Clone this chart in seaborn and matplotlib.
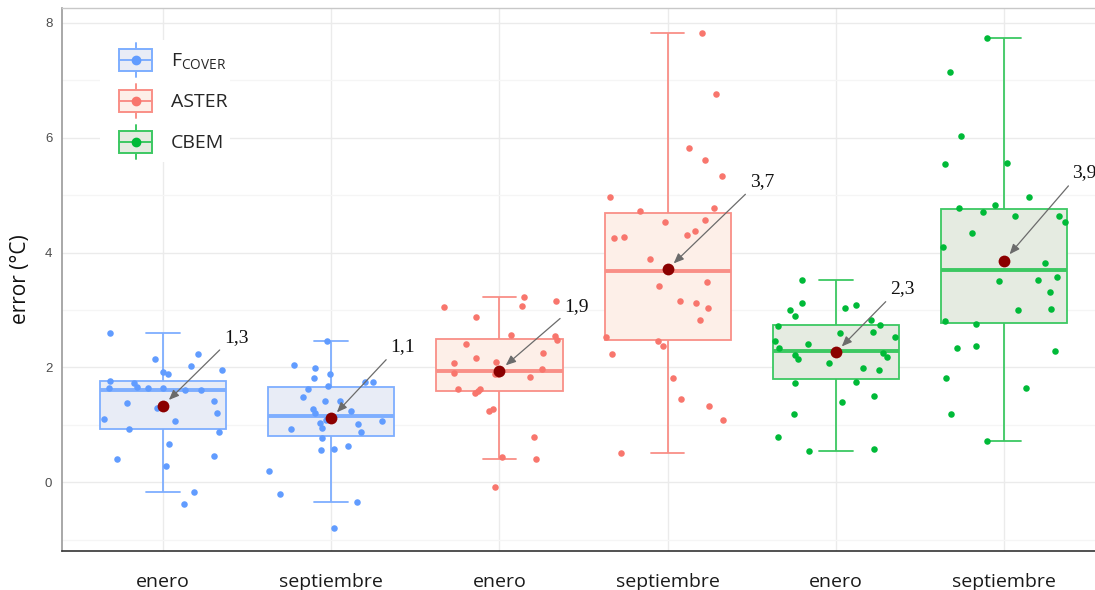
import numpy as np
import pandas as pd
import matplotlib
matplotlib.use("Agg")
import matplotlib.pyplot as plt
from matplotlib.legend_handler import HandlerBase
from matplotlib.patches import Rectangle, Patch
from matplotlib.lines import Line2D
import seaborn as sns

# Error de la temperatura estimada (°C) por método y mes
fcover_enero = [2.60, 2.23, 2.15, 2.03, 1.95, 1.89, 1.91, 1.77, 1.72, 1.64, 1.61, 1.60,
                1.64, 1.64, 1.65, 1.42, 1.37, 1.30, 1.21, 1.10, 1.07, 0.87, 0.93, 0.66,
                0.46, 0.41, 0.28, -0.18, -0.38]
fcover_septiembre = [2.46, 2.04, 1.89, 1.99, 1.67, 1.82, 1.74, 1.74, 1.63, 1.42, 1.49,
                     1.41, 1.27, 1.24, 1.20, 1.09, 1.02, 1.03, 1.07, 0.92, 0.88, 0.94,
                     0.77, 0.63, 0.57, 0.56, 0.20, -0.21, -0.34, -0.80]
aster_enero = [3.23, 3.16, 3.07, 3.05, 2.88, 2.56, 2.41, 2.47, 2.55, 2.25, 2.09, 1.97,
               2.08, 2.16, 1.88, 1.84, 1.89, 1.90, 1.62, 1.59, 1.56, 1.62, 1.24, 1.28,
               0.79, 0.41, 0.43, -0.08]
aster_septiembre = [7.82, 6.77, 5.82, 5.62, 5.33, 4.97, 4.77, 4.72, 4.54, 4.56, 4.38,
                    4.27, 4.30, 4.25, 3.88, 3.48, 3.42, 3.15, 3.12, 3.04, 2.82, 2.53,
                    2.46, 2.38, 2.24, 1.82, 1.45, 1.32, 1.08, 0.50]
cbem_enero = [3.52, 3.09, 3.00, 3.12, 3.03, 2.90, 2.83, 2.74, 2.72, 2.59, 2.62, 2.52,
              2.40, 2.22, 2.25, 2.18, 2.14, 2.08, 1.99, 1.95, 1.72, 1.74, 1.50, 1.40,
              1.19, 0.78, 0.55, 0.58, 2.33, 2.45]
cbem_septiembre = [7.73, 7.14, 6.03, 5.54, 5.56, 4.97, 4.83, 4.77, 4.71, 4.63, 4.64,
                   4.54, 4.34, 4.09, 3.81, 3.58, 3.50, 3.53, 3.32, 3.00, 3.02, 2.81,
                   2.75, 2.38, 2.34, 2.28, 1.82, 1.64, 1.18, 0.71]

metodos = ["FCOVER", "ASTER", "CBEM"]
etiquetas_metodo = [r"$\mathregular{F_{COVER}}$", "ASTER", "CBEM"]
meses = ["enero", "septiembre"]
# media de cada grupo, en el mismo orden que los grupos del eje x
medias = [1.33, 1.11, 1.94, 3.71, 2.26, 3.86]

series = {
    ("FCOVER", "enero"): fcover_enero,
    ("FCOVER", "septiembre"): fcover_septiembre,
    ("ASTER", "enero"): aster_enero,
    ("ASTER", "septiembre"): aster_septiembre,
    ("CBEM", "enero"): cbem_enero,
    ("CBEM", "septiembre"): cbem_septiembre,
}

filas = []
orden = []
for m in metodos:
    for mes in meses:
        g = f"{m}-{mes}"
        orden.append(g)
        for v in series[(m, mes)]:
            filas.append({"grupo": g, "metodo": m, "mes": mes, "error": v})
df = pd.DataFrame(filas)
etiquetas_x = [g.split("-")[1] for g in orden]

# estilo
color_punto = {"FCOVER": "#619CFF", "ASTER": "#F8766D", "CBEM": "#00BA38"}
color_linea = {"FCOVER": "#7EAEFF", "ASTER": "#F98F87", "CBEM": "#3CC862"}
color_relleno = {"FCOVER": "#E8ECF6", "ASTER": "#FDEFE8", "CBEM": "#E5EBE1"}
color_media = "#8B0000"

sns.set_style("white")
plt.rcParams["font.family"] = ["Open Sans", "DejaVu Sans"]
plt.rcParams["mathtext.default"] = "regular"

W, H = 1095, 590
fig = plt.figure(figsize=(W / 100, H / 100), dpi=100)
ax = fig.add_axes([62 / W, (H - 551) / H, 1 - 62 / W, (551 - 8) / H])

np.random.seed(7)
for m in metodos:
    sub = df[df["metodo"] == m]
    sns.boxplot(data=sub, x="grupo", y="error", order=orden, color=color_relleno[m],
                linecolor=color_linea[m], saturation=1, width=0.75, showfliers=False,
                linewidth=1.3, medianprops=dict(linewidth=2.8), capwidths=0.2, ax=ax)
for m in metodos:
    sub = df[df["metodo"] == m]
    sns.stripplot(data=sub, x="grupo", y="error", order=orden, color=color_punto[m],
                  jitter=0.37, size=4.7, linewidth=0, zorder=3, ax=ax)

sns.stripplot(x=orden, y=medias, order=orden, jitter=False, color=color_media,
              size=8.5, linewidth=0, zorder=5, ax=ax)

# anotación de la media de cada grupo
desplazamientos = [(61, 60), (59, 63), (65, 56), (82, 79), (54, 55), (68, 79)]
for i, (mu, d) in enumerate(zip(medias, desplazamientos)):
    ax.annotate(f"{mu:.1f}".replace(".", ","), xy=(i, mu), xytext=d,
                textcoords="offset pixels", ha="left", va="bottom",
                fontsize=14, family="Liberation Serif", color="#111111", zorder=6,
                arrowprops=dict(arrowstyle="-|>,head_length=0.6,head_width=0.25",
                                color="#6b6b6b", lw=0.9, mutation_scale=10,
                                relpos=(0, 0), shrinkA=1, shrinkB=6))

# ejes y rejilla
ax.set_xlim(-0.6, 5.54)
ax.set_ylim(-1.2, 8.26)
ax.set_xticks(range(len(orden)), labels=etiquetas_x)
ax.set_yticks([0, 2, 4, 6, 8])
ax.set_yticks([-1, 1, 3, 5, 7], minor=True)
ax.grid(which="major", axis="both", color="#EBEBEB", lw=1.0)
ax.grid(which="minor", axis="y", color="#F5F5F5", lw=0.9)
ax.set_axisbelow(True)
ax.tick_params(axis="x", which="major", length=4, width=1, color="#333333",
               pad=12, labelsize=14, labelcolor="#1A1A1A")
ax.tick_params(axis="y", which="major", length=4, width=1, color="#8A8A8A",
               pad=3, labelsize=9.5, labelcolor="#4D4D4D")
ax.tick_params(which="minor", length=0)
for lab in ax.get_yticklabels():
    lab.set_family("Liberation Sans")
ax.set_xlabel("")
ax.set_ylabel("error (°C)", fontsize=15, color="#111111", labelpad=10)

ax.spines["right"].set_visible(False)
ax.spines["left"].set_color("#9A9A9A")
ax.spines["left"].set_linewidth(1.2)
ax.spines["top"].set_color("#C8C8C8")
ax.spines["top"].set_linewidth(1.0)
ax.spines["bottom"].set_color("#333333")
ax.spines["bottom"].set_linewidth(1.2)


class ManejadorCaja(HandlerBase):
    """Glifo de leyenda con forma de caja con bigotes, mediana y punto."""

    def __init__(self, relleno, linea, punto):
        super().__init__()
        self.relleno, self.linea, self.punto = relleno, linea, punto

    def create_artists(self, legend, orig_handle, xdescent, ydescent, width,
                       height, fontsize, trans):
        gw = 1.7 * fontsize
        x0 = -xdescent + width - gw
        y0 = -ydescent
        cx, cy = x0 + gw / 2, y0 + height / 2
        bh = height * 0.64
        bigote = Line2D([cx, cx], [y0, y0 + height], color=self.linea, lw=1.4,
                        transform=trans)
        caja = Rectangle((x0, cy - bh / 2), gw, bh, facecolor=self.relleno,
                         edgecolor=self.linea, lw=1.4, transform=trans)
        mediana = Line2D([x0, x0 + gw], [cy, cy], color=self.linea, lw=1.4,
                         transform=trans)
        pt = Line2D([cx], [cy], marker="o", ms=6, color=self.punto, lw=0,
                    transform=trans)
        return [bigote, caja, mediana, pt]


manijas = [Patch(label=m) for m in metodos]
mapa = {h: ManejadorCaja(color_relleno[m], color_linea[m], color_punto[m])
        for h, m in zip(manijas, metodos)}
leg = ax.legend(manijas, etiquetas_metodo, handler_map=mapa, loc="upper left",
                bbox_to_anchor=(100 / W, 1 - 40 / H), bbox_transform=fig.transFigure,
                frameon=True, facecolor="white", edgecolor="none", framealpha=1,
                fancybox=False, borderpad=0.15, borderaxespad=0, handlelength=2.53,
                handleheight=2.32, handletextpad=0.95, labelspacing=0.36,
                prop=dict(family="Open Sans", size=14))
leg.set_zorder(7)

fig.savefig("out.png", dpi=100)
